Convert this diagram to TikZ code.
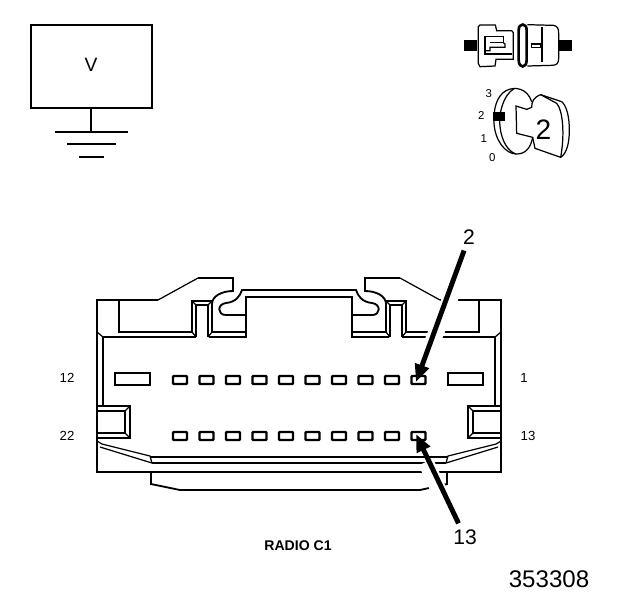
\documentclass[tikz,border=0pt]{standalone}
\usepackage{fontspec}
\setmainfont{Liberation Sans}
\usetikzlibrary{arrows.meta}
\tikzset{
    heavy/.style={line width=1.5pt},
    medium/.style={line width=1.05pt},
    fine/.style={line width=0.7pt},
    pin/.style={line width=1.4pt, rounded corners=0.5pt},
    pointer/.style={line width=2.8pt, -{Triangle[length=10pt,width=8pt]}},
    halo/.style={white, line width=9pt},
}
\newcommand{\connectorside}{
    % shell top
    \draw[medium] (299,290) -- (242,290) .. controls (240,296) and (236,302) .. (226,303)
        .. controls (217,304) and (217,315) .. (226,315) -- (246,315);
    \draw[heavy] (299,297) -- (246,297) -- (246,337) -- (209,337);
    \draw[medium] (246,332) -- (212,332) -- (212,304) .. controls (212,296) and (222,291) .. (233,291) -- (233,278) -- (198,278);
    \draw[fine] (198,278) -- (158,300);
    \draw[medium] (158,300) -- (97,300) -- (97,472) -- (299,472);
    % slot
    \draw[heavy] (119,300) -- (119,332) -- (192,332) -- (192,301) -- (212,301);
    \draw[heavy] (196,337) -- (196,305) -- (208,305) -- (208,337);
    \draw[fine] (192,332) -- (196,337) (212,332) -- (208,337) (192,301) -- (196,305) (212,301) -- (208,305);
    \draw[heavy] (196,337) -- (103,337) -- (103,406);
    \draw[fine] (97,332) -- (103,337);
    % latch
    \draw[heavy] (98,406) -- (130,406) -- (130,438) -- (98,438);
    \draw[heavy] (98,411) -- (125,411) -- (125,433) -- (98,433);
    \draw[fine] (125,411) -- (130,406) (125,433) -- (130,438);
    % lower edge
    \draw[fine] (97,441) -- (102,444) -- (150,456) -- (152,463) -- (100,447);
    \draw[medium] (150,457) -- (299,457);
    \draw[medium] (152,463) -- (299,463);
    % large cavity
    \draw[medium] (115,373) rectangle (150,385);
}
\begin{document}
\begin{tikzpicture}[x=0.02cm,y=-0.02cm]
    \useasboundingbox (0,0) rectangle (624,600);

    %% Meter and ground
    \draw[heavy] (31,25) rectangle (152,108);
    \node (volt) at (91,65) {\fontsize{11}{11}\selectfont V};
    \coordinate (gnd) at (91,132);
    \draw[heavy] (91,108) -- (gnd);
    \draw[heavy] (55,132) -- (128,132);
    \draw[heavy] (67,144) -- (116,144);
    \draw[heavy] (79,157) -- (104,157);

    %% Probe, side view
    \begin{scope}[shift={(440,20)},scale=1/3]
        \fill (72,60) rectangle (112,92);
        \fill (355,60) rectangle (395,92);
        \draw[fine] (115,20) -- (120,15) -- (166,15) -- (170,32) -- (215,32) -- (220,38) -- (220,118) -- (168,118) -- (165,138) -- (120,140) -- (115,130) -- cycle;
        \draw[fine] (215,102) -- (135,102) -- (135,50) -- (190,50) -- (190,68) -- (150,68);
        \draw[fine] (190,68) -- (195,72) -- (195,82) -- (150,82) -- (150,92) -- (135,92);
        \draw[heavy] (236,30) .. controls (236,8) and (260,8) .. (260,30) -- (260,120) .. controls (260,146) and (236,146) .. (236,120) -- cycle;
        \draw[fine] (262,14) -- (340,16) .. controls (352,18) and (356,25) .. (356,40) -- (356,115) .. controls (356,130) and (350,136) .. (335,136) -- (262,138);
        \draw[fine] (306,20) -- (306,125);
        \draw[fine] (275,72) rectangle (302,82);
    \end{scope}

    %% Probe, front view
    \begin{scope}[shift={(440,20)},scale=1/3]
        \fill (160,276) rectangle (195,304);
        \draw[fine] (275,245) .. controls (262,205) and (225,198) .. (198,212)
            .. controls (170,228) and (160,265) .. (162,310)
            .. controls (165,360) and (195,402) .. (230,402)
            .. controls (255,402) and (272,385) .. (278,352);
        \draw[fine] (222,206) .. controls (190,225) and (175,280) .. (180,320) .. controls (185,365) and (205,395) .. (228,402);
        \draw[fine] (228,258) -- (260,268) -- (275,262) .. controls (275,245) and (280,232) .. (302,224)
            -- (365,245) .. controls (380,258) and (388,290) .. (388,330)
            .. controls (388,370) and (380,400) .. (362,412) -- (285,385) -- (278,352) -- (230,340) -- cycle;
        \draw[fine] (302,224) -- (350,250) .. controls (368,270) and (375,340) .. (362,412);
        \node (key) at (310,330) {\fontsize{16}{16}\selectfont 2};
        \node[font=\fontsize{6.5}{6.5}\selectfont] (pos3) at (146,222) {3};
        \node[font=\fontsize{6.5}{6.5}\selectfont] (pos2) at (124,288) {2};
        \node[font=\fontsize{6.5}{6.5}\selectfont] (pos1) at (131,356) {1};
        \node[font=\fontsize{6.5}{6.5}\selectfont] (pos0) at (157,412) {0};
    \end{scope}

    %% Connector shell
    \connectorside
    \begin{scope}[shift={(598,0)},xscale=-1]
        \connectorside
    \end{scope}

    %% Lower skirt
    \draw[medium] (151,472) -- (151,484) -- (180,490) -- (420,490) -- (447,484) -- (447,472);

    %% Terminals
    \foreach \i in {0,...,9} {
        \draw[pin] ({173+26.5*\i},376) rectangle ({187+26.5*\i},384);
        \draw[pin] ({173+26.5*\i},432) rectangle ({187+26.5*\i},440);
    }
    \coordinate (pinb) at (416,382);
    \coordinate (pint) at (416,434);

    %% Cavity numbers
    \begin{scope}[font=\fontsize{7.5}{7.5}\selectfont]
        \node (c12) at (67,378) {12};
        \node (c22) at (67,436) {22};
        \node (c1) at (524,378) {1};
        \node (c13) at (528,436) {13};
    \end{scope}

    %% Pointers
    \node (lblb) at (469,237) {\fontsize{12}{12}\selectfont 2};
    \node (lblt) at (465,537) {\fontsize{12}{12}\selectfont 13};
    \draw[halo] (465,262) -- (424,362);
    \draw[halo] (452,520) -- (426,462);
    \draw[pointer] (lblb) -- (pinb);
    \draw[pointer] (lblt) -- (pint);

    \node[font=\bfseries\fontsize{8}{8}\selectfont] (title) at (298,546) {RADIO C1};
    \node (code) at (549,579) {\fontsize{13.7}{13.7}\selectfont 353308};
\end{tikzpicture}
\end{document}
